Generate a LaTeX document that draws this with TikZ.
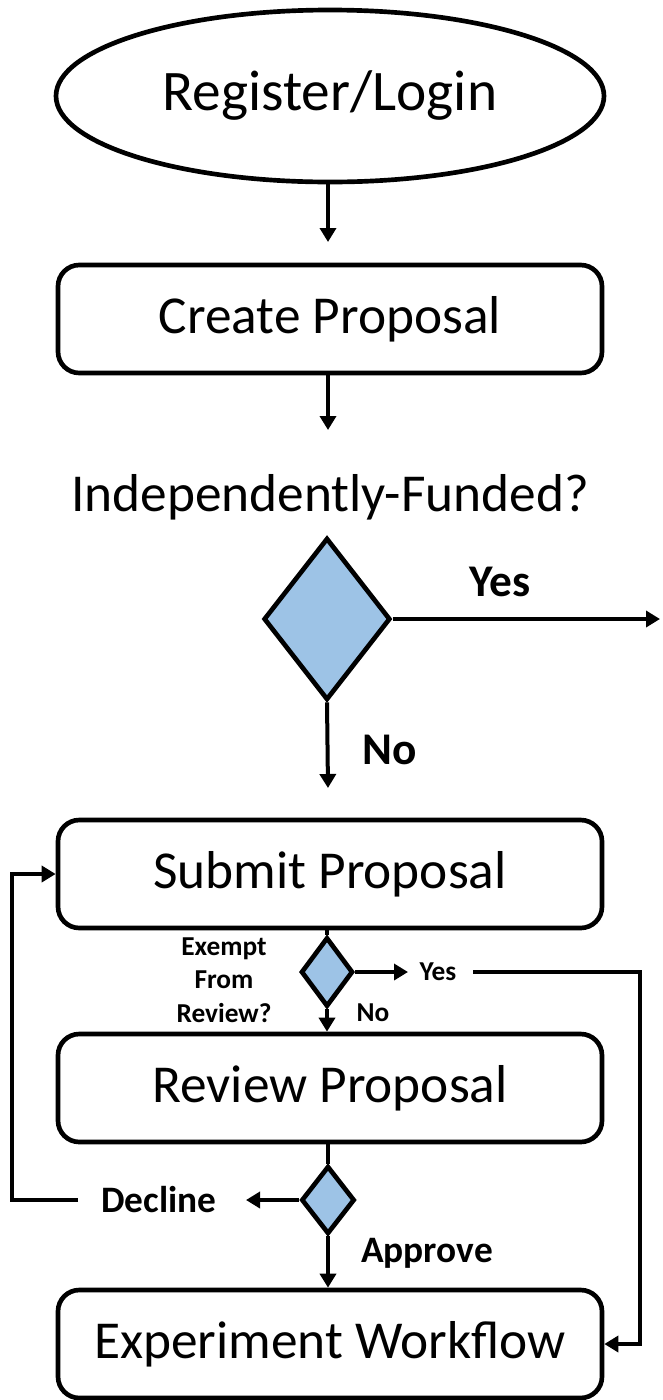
\documentclass[tikz,border=0pt]{standalone}
\usepackage{fontspec}
\setmainfont{Carlito}
\usetikzlibrary{shapes,arrows.meta}
\definecolor{choiceblue}{RGB}{157,195,230}

\begin{document}
\begin{tikzpicture}[x=0.75pt,y=-0.75pt,
  line width=3pt,
  >={Triangle[length=10.5pt,width=12pt]},
  stepbox/.style={draw, line width=3.5pt, rounded corners=16pt, minimum width=408pt, minimum height=81pt, inner sep=0pt, font=\fontsize{40}{42}\selectfont},
  choice/.style={draw, line width=3.5pt, shape=diamond, fill=choiceblue, inner sep=0pt},
  biglab/.style={font=\fontsize{34}{36}\selectfont\bfseries},
  midlab/.style={font=\fontsize{28}{30}\selectfont\bfseries},
  smalllab/.style={font=\fontsize{20.5}{25}\selectfont\bfseries, align=center}]
\useasboundingbox (0,0) rectangle (662,1400);

\node (login) [draw, line width=3.5pt, shape=ellipse, minimum width=411pt, minimum height=129pt, inner sep=0pt, font=\fontsize{43}{45}\selectfont] at (330,96) {\raisebox{7pt}{Register/Login}};
\node (create) [stepbox] at (330,319) {Create Proposal};
\node (question) [font=\fontsize{40}{42}\selectfont] at (330,497) {Independently-Funded?};
\node (funded) [choice, minimum width=95pt, minimum height=121.5pt] at (327,619) {};
\node (submit) [stepbox] at (330,874) {Submit Proposal};
\node (exempt) [choice, minimum width=39pt, minimum height=52pt] at (327,972) {};
\node (review) [stepbox] at (330,1088) {Review Proposal};
\node (decide) [choice, minimum width=40pt, minimum height=51pt] at (328,1200) {};
\node (workflow) [stepbox] at (330,1344) {Experiment Workflow};

% labels
\node (fyes) [biglab] at (500,582) {Yes};
\node (fno) [biglab] at (390,750) {No};
\node (exq) [smalllab] at (224,980) {Exempt\\From\\Review?};
\node (eyes) [smalllab] at (438,972) {Yes};
\node (eno) [smalllab] at (373,1013) {No};
\node (decline) [midlab] at (159,1200) {Decline};
\node (approve) [midlab] at (427,1253) {Approve};

\coordinate (a1) at (328,242);
\coordinate (a2) at (328,430);
\coordinate (a3) at (660,619);
\coordinate (a4) at (328,788);
\coordinate (a5) at (408,972);
\coordinate (a6) at (473,972);
\coordinate (a7) at (640,972);
\coordinate (a8) at (246,1200);
\coordinate (a9) at (78,1200);
\coordinate (a10) at (12,1200);

\draw[->] (login.south -| a1) -- (a1);
\draw[->] (create.south -| a2) -- (a2);
\draw[->] (funded.east) -- (a3);
\draw[->] (funded.south) -- (a4);
\draw (submit.south -| exempt) -- (exempt.north);
\draw[->] (exempt.east) -- (a5);
\draw[->] (a6) -- (a7) |- (workflow.east);
\draw[->] (exempt.south) -- (exempt.south |- review.north);
\draw (review.south -| decide) -- (decide.north);
\draw[->] (decide.west) -- (a8);
\draw[->] (a9) -- (a10) |- (submit.west);
\draw[->] (decide.south) -- (decide.south |- workflow.north);
\end{tikzpicture}
\end{document}
